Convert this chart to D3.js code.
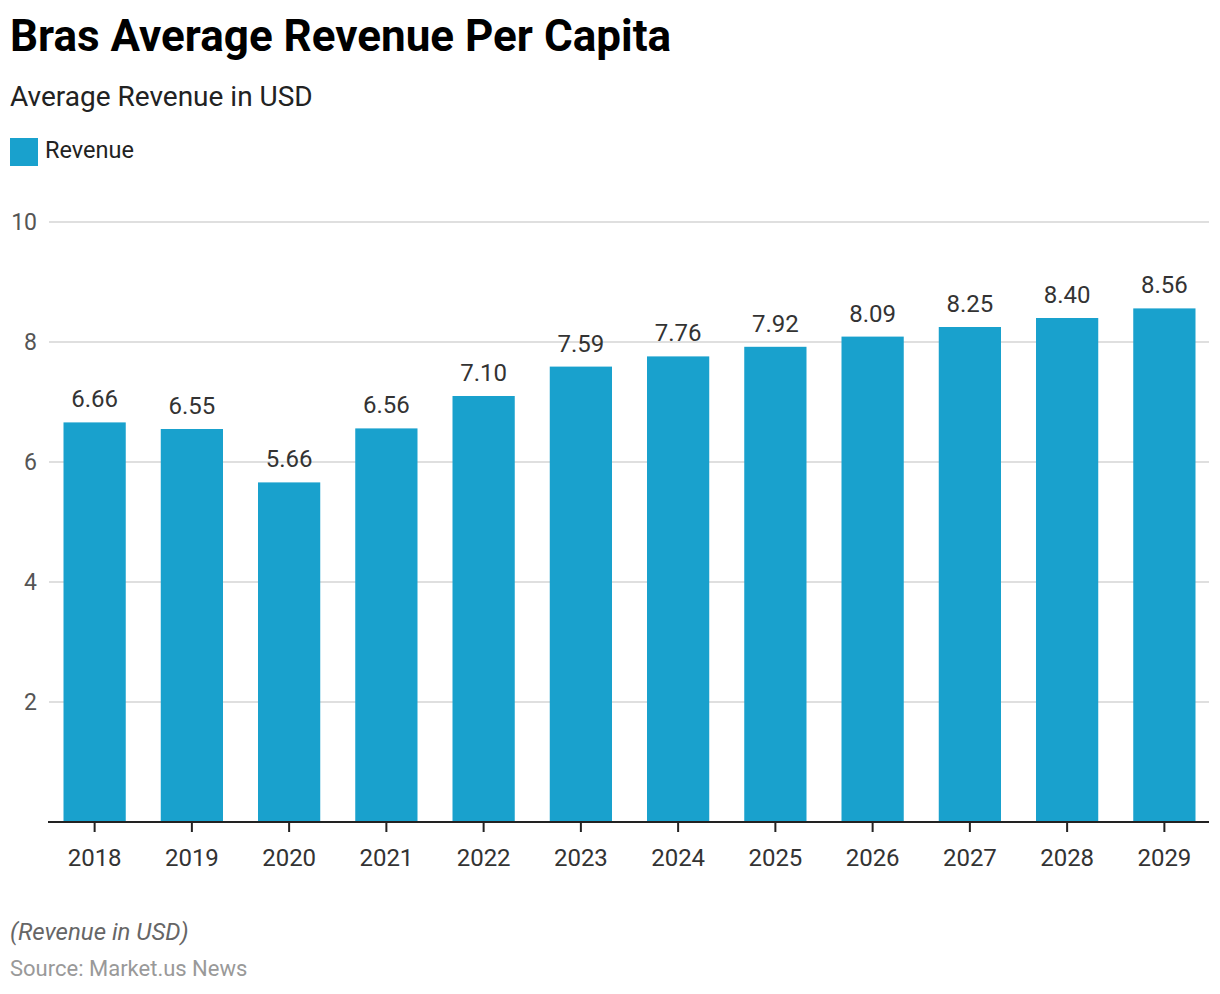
<!DOCTYPE html>
<html>
<head>
<meta charset="utf-8">
<script src="https://cdn.jsdelivr.net/npm/d3@7"></script>
<style>
  body { margin: 0; background: #fff; }
  svg { font-family: Roboto, "Noto Sans", sans-serif; }
</style>
</head>
<body>
<svg id="chart"></svg>
<script>
// data
var years = ["2018", "2019", "2020", "2021", "2022", "2023", "2024", "2025", "2026", "2027", "2028", "2029"];
var revenue = [6.66, 6.55, 5.66, 6.56, 7.10, 7.59, 7.76, 7.92, 8.09, 8.25, 8.40, 8.56];
var yTicks = [2, 4, 6, 8, 10];

var W = 1220, H = 994;
var barColor = "#19a1cd";

var svg = d3.select("#chart").attr("width", W).attr("height", H);

// titles
svg.append("text").attr("x", 10).attr("y", 51)
  .attr("font-size", 44).attr("font-weight", 700).attr("fill", "#000")
  .text("Bras Average Revenue Per Capita");
svg.append("text").attr("x", 10).attr("y", 106)
  .attr("font-size", 28).attr("fill", "#222")
  .text("Average Revenue in USD");

// legend
svg.append("rect").attr("x", 10).attr("y", 138).attr("width", 28).attr("height", 28).attr("fill", barColor);
svg.append("text").attr("x", 45).attr("y", 158).attr("font-size", 23.5).attr("fill", "#222").text("Revenue");

var x = d3.scaleBand().domain(years).range([46, 1213]).paddingInner(0.36).paddingOuter(0.18);
var y = d3.scaleLinear().domain([0, 10]).range([822, 222]);

// grid
svg.append("g").selectAll("line")
  .data(yTicks)
  .enter().append("line")
  .attr("x1", 49).attr("x2", 1209)
  .attr("y1", function(d){ return y(d); })
  .attr("y2", function(d){ return y(d); })
  .attr("stroke", "#d4d4d4").attr("stroke-width", 1.5);

svg.append("g").selectAll("text")
  .data(yTicks)
  .enter().append("text")
  .attr("x", 37).attr("y", function(d){ return y(d) + 8; })
  .attr("text-anchor", "end").attr("font-size", 23).attr("fill", "#555")
  .text(function(d){ return d; });

// bars
svg.append("g").selectAll("rect")
  .data(revenue)
  .enter().append("rect")
  .attr("x", function(d, i){ return x(years[i]); })
  .attr("y", function(d){ return y(d); })
  .attr("width", x.bandwidth())
  .attr("height", function(d){ return y(0) - y(d); })
  .attr("fill", barColor);

// value labels
svg.append("g").selectAll("text")
  .data(revenue)
  .enter().append("text")
  .attr("x", function(d, i){ return x(years[i]) + x.bandwidth() / 2; })
  .attr("y", function(d){ return y(d) - 15; })
  .attr("text-anchor", "middle").attr("font-size", 24).attr("fill", "#333")
  .text(function(d){ return d.toFixed(2); });

// x axis
var xAxis = svg.append("g").attr("transform", "translate(0," + y(0) + ")")
  .call(d3.axisBottom(x).tickSize(10).tickSizeOuter(0).tickPadding(17));
xAxis.select(".domain").attr("stroke", "#222").attr("stroke-width", 2)
  .attr("d", "M48,0H1209");
xAxis.selectAll(".tick line").attr("stroke", "#222").attr("stroke-width", 2);
xAxis.selectAll(".tick text").attr("font-size", 24).attr("fill", "#333")
  .attr("font-family", "Roboto, sans-serif");

// footer
svg.append("text").attr("x", 10).attr("y", 940)
  .attr("font-size", 24).attr("font-style", "italic").attr("fill", "#666")
  .text("(Revenue in USD)");
svg.append("text").attr("x", 10).attr("y", 976)
  .attr("font-size", 22).attr("fill", "#999")
  .text("Source: Market.us News");
</script>
</body>
</html>
